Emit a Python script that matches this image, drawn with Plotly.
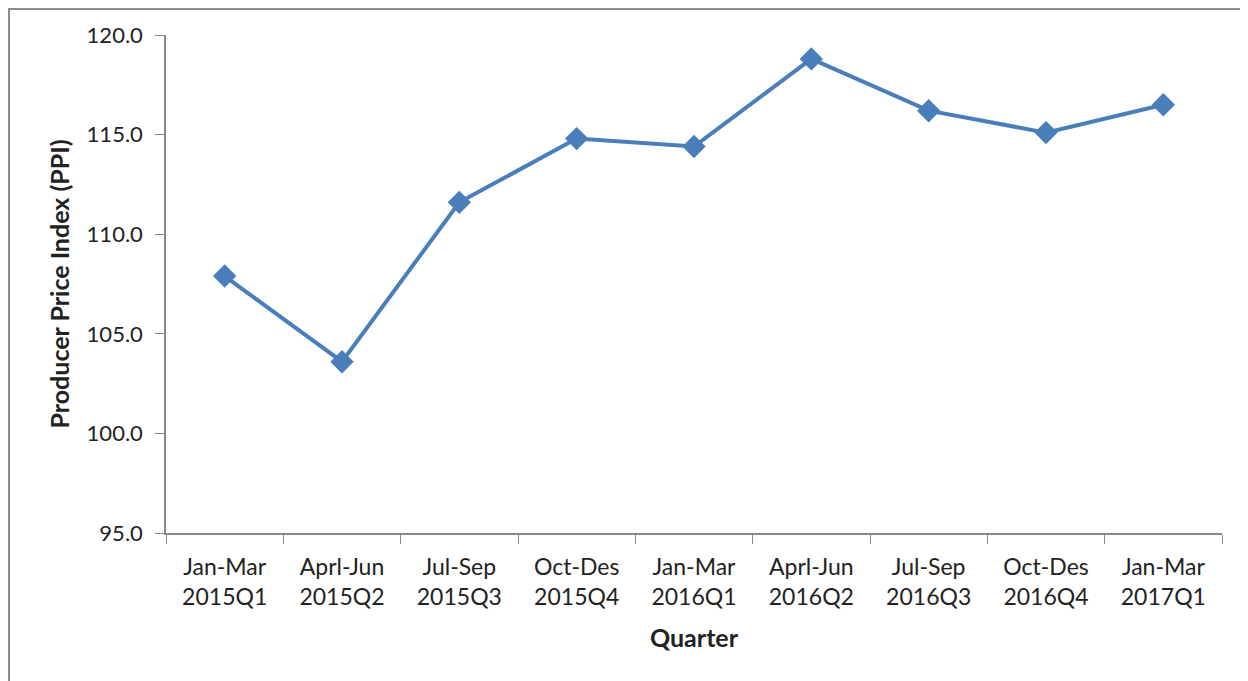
import plotly.graph_objects as go

quarters = ["Jan-Mar<br>2015Q1", "Aprl-Jun<br>2015Q2", "Jul-Sep<br>2015Q3", "Oct-Des<br>2015Q4",
            "Jan-Mar<br>2016Q1", "Aprl-Jun<br>2016Q2", "Jul-Sep<br>2016Q3", "Oct-Des<br>2016Q4",
            "Jan-Mar<br>2017Q1"]
ppi = [107.9, 103.6, 111.6, 114.8, 114.4, 118.8, 116.2, 115.1, 116.5]
y_ticks = [95, 100, 105, 110, 115, 120]

FONT = "Lato"
fig = go.Figure()
fig.add_trace(go.Scatter(
    x=quarters, y=ppi, mode="lines+markers",
    line=dict(color="#4A7EBB", width=4),
    marker=dict(symbol="diamond", size=18, color="#4A7EBB"),
    showlegend=False,
))

# page body adds an 8px offset; compensate
W, H = 1240, 673
L, R, T, B = 158, 26, 27, 148
pw, ph = W - L - R, H - T - B

fig.update_layout(
    width=W, height=H,
    margin=dict(l=L, r=R, t=T, b=B),
    paper_bgcolor="white", plot_bgcolor="white",
    font=dict(family=FONT, size=22, color="#222222"),
    xaxis=dict(
        type="category", tickson="boundaries", ticks="outside", ticklen=9,
        tickcolor="#888888", showline=True, linecolor="#888888", linewidth=1.5,
        showgrid=False, tickfont=dict(size=23), ticklabelstandoff=13,
        title=dict(text="<b>Quarter</b>", font=dict(size=25), standoff=20),
        range=[-0.5, len(quarters) - 0.5],
    ),
    yaxis=dict(
        range=[95, 120], tickvals=y_ticks, tickformat=".1f",
        ticks="outside", ticklen=9, tickcolor="#888888", ticklabelstandoff=8,
        showline=True, linecolor="#888888", linewidth=1.5, showgrid=False, zeroline=False,
        tickfont=dict(size=22),
        title=dict(text="<b>Producer Price Index (PPI)</b>", font=dict(size=25), standoff=10),
    ),
    shapes=[dict(
        type="rect", xref="paper", yref="paper",
        x0=(1 - L) / pw, x1=(W + 20 - L) / pw,
        y0=-(B + 20) / ph, y1=(H - B - 1) / ph,
        line=dict(color="#8C8C8C", width=2), fillcolor="rgba(0,0,0,0)", layer="below",
    )],
)

fig.write_html("out.html")
